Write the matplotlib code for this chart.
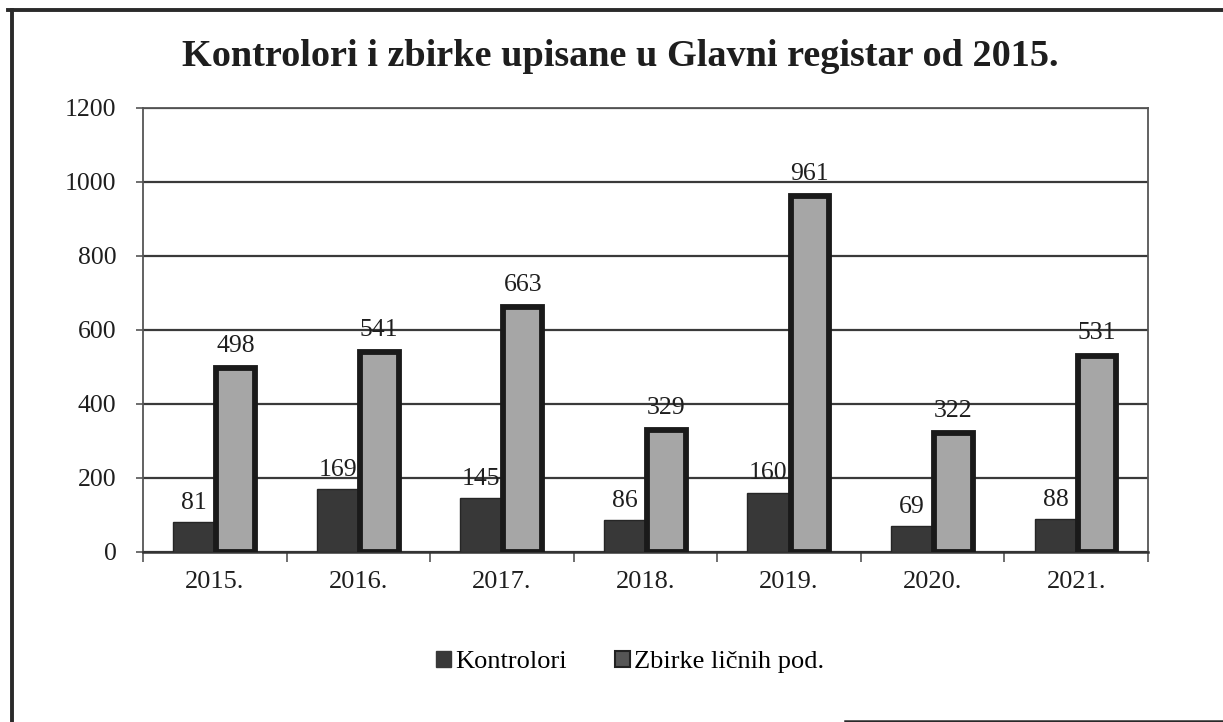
import matplotlib
matplotlib.use("Agg")
import matplotlib.pyplot as plt
import numpy as np
from matplotlib.lines import Line2D

years = ["2015.", "2016.", "2017.", "2018.", "2019.", "2020.", "2021."]
kontrolori = [81, 169, 145, 86, 160, 69, 88]
zbirke = [498, 541, 663, 329, 961, 322, 531]
title = "Kontrolori i zbirke upisane u Glavni registar od 2015."
legend_labels = ["Kontrolori", "Zbirke ličnih pod."]

plt.rcParams['font.family'] = ['Liberation Serif', 'DejaVu Serif']

W, H = 1223, 722
fig = plt.figure(figsize=(W / 100, H / 100), dpi=100)

def fx(px):
    return px / W

def fy(py):
    return 1 - py / H

# outer frame
fig.add_artist(Line2D([fx(8), fx(1223)], [fy(10), fy(10)], color="#2a2a2a", lw=2.8))
fig.add_artist(Line2D([fx(12), fx(12)], [fy(10), fy(722)], color="#2a2a2a", lw=2.8))
fig.add_artist(Line2D([fx(845), fx(1223)], [fy(720.5), fy(720.5)], color="#2a2a2a", lw=1.8))

ax = fig.add_axes([fx(143), fy(552), fx(1148) - fx(143), (552 - 108) / H])

x = np.arange(len(years))
bw = 0.29
dark = "#383838"
light = "#a6a6a6"

ax.bar(x - bw / 2, kontrolori, width=bw, color=dark, edgecolor="#262626", linewidth=1.0, zorder=3)
ax.bar(x + bw / 2, zbirke, width=bw * 0.93, color=light, edgecolor="#1a1a1a", linewidth=4.2, zorder=3)

for xi, v in zip(x, kontrolori):
    ax.annotate(str(v), (xi - bw / 2, v), xytext=(0, 6), textcoords="offset points",
                ha="center", va="bottom", fontsize=18.5, color="#1e1e1e", zorder=5)
for xi, v in zip(x, zbirke):
    ax.annotate(str(v), (xi + bw / 2, v), xytext=(0, 8), textcoords="offset points",
                ha="center", va="bottom", fontsize=18.5, color="#1e1e1e", zorder=5)

ax.set_xlim(-0.5, len(years) - 0.5)
ax.set_ylim(0, 1200)
ax.set_yticks(np.arange(0, 1201, 200))
ax.set_yticklabels([str(v) for v in range(0, 1201, 200)], fontsize=18.5, color="#1e1e1e")
ax.yaxis.grid(True, color="#3a3a3a", linewidth=1.6, zorder=0)
ax.set_axisbelow(True)

ax.set_xticks(x)
ax.set_xticklabels(years, fontsize=19, color="#1e1e1e")
ax.tick_params(axis="x", length=0, pad=14)
ax.set_xticks(np.arange(-0.5, len(years) + 0.5, 1), minor=True)
ax.tick_params(axis="x", which="minor", length=7, width=1.2, color="#555555")
ax.tick_params(axis="y", length=5, width=1.2, color="#555555", pad=14)

for s in ax.spines.values():
    s.set_color("#555555")
    s.set_linewidth(1.3)
ax.spines["bottom"].set_color("#333333")
ax.spines["bottom"].set_linewidth(1.8)

fig.text(fx(620), fy(56), title, ha="center", va="center", fontsize=27.5,
         fontweight="bold", color="#1e1e1e")

handles = [plt.Rectangle((0, 0), 1, 1, facecolor=dark, edgecolor=dark),
           plt.Rectangle((0, 0), 1, 1, facecolor="#555555", edgecolor="#222222", linewidth=1.5)]
fig.legend(handles, legend_labels, loc="center", bbox_to_anchor=(fx(630), fy(662)),
           ncol=2, frameon=False, fontsize=19, handlelength=0.6, handleheight=0.6,
           handletextpad=0.15, columnspacing=1.8)

fig.savefig("out.png", dpi=100)
